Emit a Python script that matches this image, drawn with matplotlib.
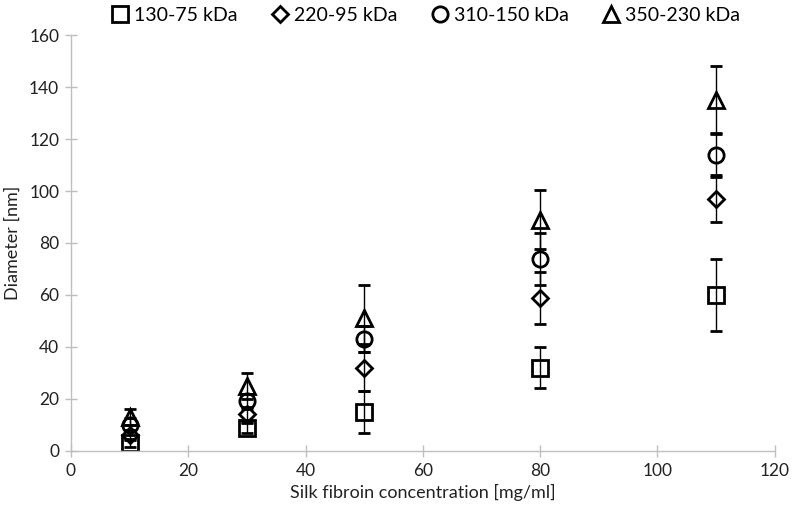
import numpy as np
import matplotlib.pyplot as plt

plt.rcParams['font.family'] = ['Lato', 'DejaVu Sans']

conc = np.array([10, 30, 50, 80, 110])

d_130 = np.array([3, 8.7, 15, 32, 60])
e_130 = np.array([1.5, 2, 8, 8, 14])
d_220 = np.array([6, 14, 32, 59, 97])
e_220 = np.array([2, 3, 9, 10, 9])
d_310 = np.array([10, 19, 43, 74, 114])
e_310 = np.array([2.5, 3, 5, 10, 8.5])
d_350 = np.array([13, 25, 51, 89, 135])
e_350 = np.array([3, 5, 13, 11.5, 13])

labels = ['130-75 kDa', '220-95 kDa', '310-150 kDa', '350-230 kDa']
markers = ['s', 'D', 'o', '^']
msizes = [11, 8, 11, 12]

fig = plt.figure(figsize=(7.93, 5.17), dpi=100)
ax = fig.add_axes([0.0895, 0.128, 0.8875, 0.804])

series = [(d_130, e_130), (d_220, e_220), (d_310, e_310), (d_350, e_350)]
for (d, e), lab, m, ms in zip(series, labels, markers, msizes):
    ax.errorbar(conc, d, yerr=e, fmt=m, ms=ms, mfc='none', mec='black',
                mew=2.0, ecolor='black', elinewidth=1.0, capsize=4,
                capthick=1.0, label=lab)

ax.set_xlim(0, 120)
ax.set_ylim(0, 160)
ax.set_xticks(np.arange(0, 121, 20))
ax.set_yticks(np.arange(0, 161, 20))
for s in ['top', 'right']:
    ax.spines[s].set_visible(False)
for s in ['left', 'bottom']:
    ax.spines[s].set_color('#bfbfbf')
    ax.spines[s].set_linewidth(1.0)
ax.tick_params(direction='inout', length=9, width=1.0, color='#bfbfbf',
               labelsize=12.5, labelcolor='#222222', pad=4)
ax.set_xlabel('Silk fibroin concentration [mg/ml]', fontsize=13, color='#222222')
ax.set_ylabel('Diameter [nm]', fontsize=13, color='#222222', labelpad=6)

handles, labs = ax.get_legend_handles_labels()
handles = [h[0] for h in handles]
fig.legend(handles, labs, loc='upper center', bbox_to_anchor=(0.535, 1.02),
           ncol=4, frameon=False, fontsize=14, handletextpad=0.1,
           columnspacing=1.6, handlelength=1.2)

fig.savefig('out.png', dpi=100)
